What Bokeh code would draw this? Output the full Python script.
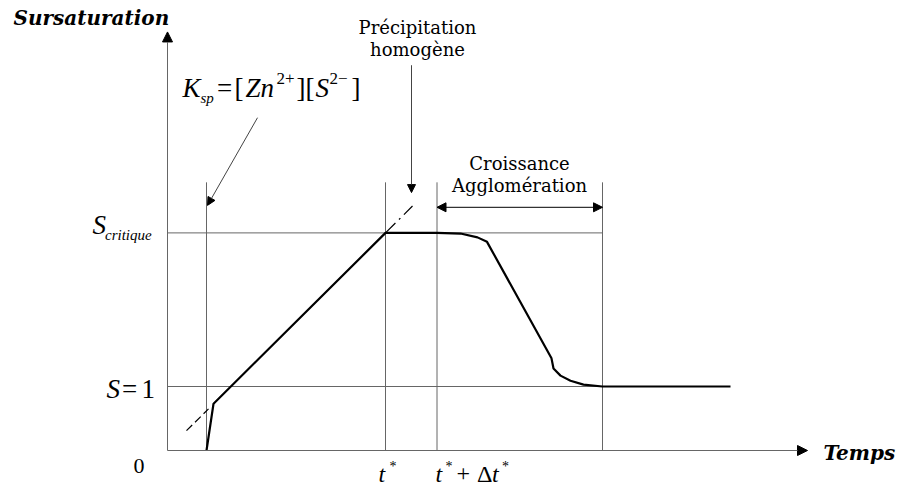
from bokeh.plotting import figure
from bokeh.models import Range1d, Label, Arrow, NormalHead
from bokeh.embed import file_html
from bokeh.resources import INLINE

# ---------------- data (time: arbitrary units, S: supersaturation) ----------------
landmark_t = [3.9, 21.8, 26.95, 43.5]      # t0, t*, t*+Δt*, end of growth
level_S = [1.0, 3.4]                        # S = 1, S critique
guide_top_S = 4.19                          # top of the vertical guides

curve_t = [3.9, 4.6, 21.8, 26.95, 29.3, 31.0, 31.95, 38.4, 38.6, 39.3, 40.3, 41.6, 43.5, 56.3]
curve_S = [0.0, 0.73, 3.4, 3.4, 3.39, 3.33, 3.26, 1.44, 1.28, 1.17, 1.09, 1.03, 1.0, 1.0]

tangent_low_t = [1.9, 4.1]
tangent_low_S = [0.31, 0.65]
tangent_high_t = [21.8, 24.5]
tangent_high_S = [3.4, 3.82]

axis_t_max = 64.0
axis_S_max = 6.54

MATH = "Liberation Serif"
TXT = "DejaVu Serif"
GRID = "#666666"

# screen scale of the drawing: 10 px per time unit, 64 px per S unit, origin at (167, 450)
PX_T, PX_S, X0, Y0 = 10.0, 64.0, 167.0, 450.0

p = figure(width=898, height=486,
           x_range=Range1d((0 - X0) / PX_T, (898 - X0) / PX_T),
           y_range=Range1d((Y0 - 486) / PX_S, Y0 / PX_S),
           output_backend="svg", toolbar_location=None,
           x_axis_location=None, y_axis_location=None, min_border=0)
p.grid.visible = False
p.outline_line_color = None
p.background_fill_color = "white"

# guide lines
p.multi_line(xs=[[t, t] for t in landmark_t], ys=[[0, guide_top_S] for _ in landmark_t],
             line_color=GRID, line_width=1)
p.multi_line(xs=[[0, landmark_t[-1]] for _ in level_S], ys=[[s, s] for s in level_S],
             line_color=GRID, line_width=1)

# axes with arrow heads
p.add_layout(Arrow(x_start=0, y_start=0, x_end=0, y_end=axis_S_max, line_color=GRID, line_width=1,
                   end=NormalHead(size=10, fill_color="black", line_color="black")))
p.add_layout(Arrow(x_start=0, y_start=0, x_end=axis_t_max, y_end=0, line_color=GRID, line_width=1,
                   end=NormalHead(size=10, fill_color="black", line_color="black")))

# tangent (dashed) and curve
p.line(tangent_low_t, tangent_low_S, line_color="black", line_width=1.2, line_dash="8 4")
p.line(tangent_high_t, tangent_high_S, line_color="black", line_width=1.2, line_dash="14 5 2 5")
p.line(curve_t, curve_S, line_color="black", line_width=2.2)

# annotation arrows
p.add_layout(Arrow(x_start=9.0, y_start=5.20, x_end=4.0, y_end=3.83, line_color="#444444", line_width=1,
                   end=NormalHead(size=8, fill_color="black", line_color="black")))
p.add_layout(Arrow(x_start=24.4, y_start=6.02, x_end=24.4, y_end=4.03, line_color="#444444", line_width=1,
                   end=NormalHead(size=8, fill_color="black", line_color="black")))
p.add_layout(Arrow(x_start=landmark_t[2], y_start=3.80, x_end=landmark_t[3], y_end=3.80,
                   line_color="black", line_width=1,
                   start=NormalHead(size=9, fill_color="black", line_color="black"),
                   end=NormalHead(size=9, fill_color="black", line_color="black")))


def lab(px, base, text, font, size, style="normal", align="left"):
    """Place a label whose glyph baseline should sit at screen row `base`."""
    anchor = base - 0.32 * size
    p.add_layout(Label(x=(px - X0) / PX_T, y=(Y0 - anchor) / PX_S, text=text,
                       text_font=font, text_font_size=f"{size}px",
                       text_font_style=style, text_align=align, text_baseline="alphabetic",
                       text_color="black"))


# axis titles
lab(13, 23.5, "Sursaturation", TXT, 20, "bold italic")
lab(823, 458.5, "Temps", TXT, 20, "bold italic")

# French annotations
lab(417, 33, "Précipitation", TXT, 18, align="center")
lab(417, 55, "homogène", TXT, 18, align="center")
lab(519, 169, "Croissance", TXT, 18, align="center")
lab(519, 190.5, "Agglomération", TXT, 18, align="center")

# Ksp = [Zn2+][S2-]
lab(182, 96, "K", MATH, 27, "italic")
lab(200, 102, "sp", MATH, 15, "italic")
lab(216.5, 96, "=", MATH, 27)
lab(234, 96, "[", MATH, 27)
lab(245, 96, "Zn", MATH, 27, "italic")
lab(276, 83.5, "2+", MATH, 17)
lab(296, 96, "][", MATH, 27)
lab(315, 96, "S", MATH, 27, "italic")
lab(329, 83.5, "2\u2212", MATH, 17)
lab(351, 96, "]", MATH, 27)

# S critique
lab(92, 233, "S", MATH, 27, "italic")
lab(104.5, 239, "critique", MATH, 15, "italic")

# S = 1
lab(106, 397, "S", MATH, 27, "italic")
lab(121.5, 397, "=", MATH, 27)
lab(141, 397, "1", MATH, 27)

# 0
lab(133, 473, "0", MATH, 22)

# t*
lab(378, 481, "t", MATH, 24, "italic")
lab(389, 470, "*", MATH, 14)

# t* + Δt*
lab(435, 481, "t", MATH, 24, "italic")
lab(445, 470, "*", MATH, 14)
lab(456, 481, "+", MATH, 24)
lab(476.5, 481, "\u0394", MATH, 24)
lab(491.5, 481, "t", MATH, 24, "italic")
lab(501.5, 470, "*", MATH, 14)

open("out.html", "w").write(file_html(p, INLINE))
